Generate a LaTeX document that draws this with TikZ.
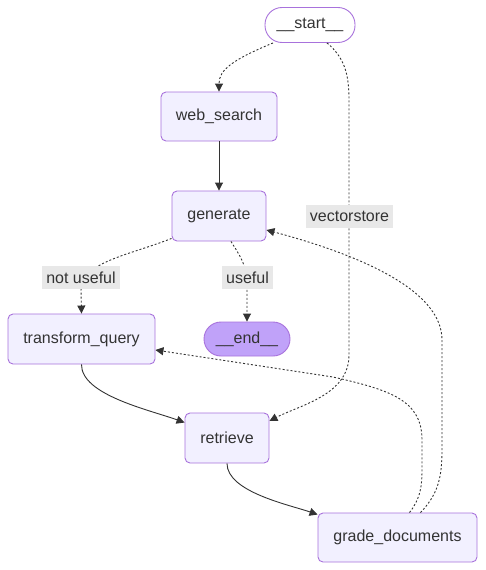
\documentclass[tikz,border=0pt]{standalone}
\usepackage{fontspec}
\setmainfont{Liberation Sans}
\usetikzlibrary{arrows.meta,calc}
\definecolor{nodefill}{HTML}{F2F0FF}
\definecolor{nodeline}{HTML}{A872DC}
\definecolor{endfill}{HTML}{C0A2F9}
\definecolor{txt}{HTML}{333333}
\definecolor{lblfill}{HTML}{E8E8E8}
\tikzset{
  box/.style={draw=nodeline, line width=0.9pt, fill=nodefill, rounded corners=5pt, inner sep=0pt, text=txt, font=\fontsize{16}{19}\selectfont},
  pill/.style={draw=nodeline, line width=0.9pt, rounded corners=17pt, inner sep=0pt, text=txt, font=\fontsize{16}{19}\selectfont},
  lbl/.style={fill=lblfill, inner xsep=4pt, inner ysep=0pt, minimum height=23pt, text=txt, font=\fontsize{16}{19}\selectfont},
  solidedge/.style={draw=txt, line width=0.9pt, -{Triangle[length=8pt,width=8pt]}},
  dotedge/.style={draw=txt, line width=0.9pt, dash pattern=on 2pt off 2pt, -{Triangle[length=8pt,width=8pt]}},
}
\begin{document}
\begin{tikzpicture}[x=1pt,y=-1pt]
\useasboundingbox (0,0) rectangle (485,570);
% nodes
\node[pill, fill=white, minimum width=90pt, minimum height=35pt] (start) at (310,25) {\_\_start\_\_};
\node[box, minimum width=116pt, minimum height=49pt] (ws) at (219,116.5) {web\_search};
\node[box, minimum width=94pt, minimum height=50pt] (gen) at (219,216) {generate};
\node[box, minimum width=147pt, minimum height=50pt] (tq) at (81.5,339) {transform\_query};
\node[pill, fill=endfill, minimum width=86pt, minimum height=34pt] (end) at (247,339) {\_\_end\_\_};
\node[box, minimum width=84pt, minimum height=50pt] (ret) at (227,438) {retrieve};
\node[box, minimum width=159pt, minimum height=49pt] (gd) at (397.5,537.5) {grade\_documents};
% edges (behind labels); note: yshift is in canvas units (positive = up)
\draw[dotedge] ([xshift=-37pt]start.south) .. controls (232,60) and (219,70) .. (ws.north);
\draw[dotedge] ([xshift=17pt]start.south) .. controls (345,58) and (349,75) .. (349,100) -- (349,355) .. controls (349,395) and (300,405) .. ([yshift=17pt]ret.east);
\draw[solidedge] (ws.south) -- (gen.north);
\draw[dotedge] ([yshift=3pt]gen.south west) .. controls (130,255) and (81,262) .. (81,290) -- (tq.north);
\draw[dotedge] ([xshift=12pt]gen.south) .. controls (240,256) and (247,265) .. (247,285) -- (end.north);
\draw[solidedge] (tq.south) .. controls (81,395) and (150,410) .. ([yshift=-10pt]ret.north west);
\draw[solidedge] (ret.south) .. controls (227,492) and (290,505) .. ([yshift=-2pt]gd.north west);
\draw[dotedge] ([xshift=23pt]gd.north) .. controls (437,495) and (442,480) .. (442,450) -- (442,340) .. controls (442,290) and (360,255) .. ([yshift=-14pt]gen.east);
\draw[dotedge] ([xshift=12pt]gd.north) .. controls (419,500) and (422,490) .. (422,470) -- (422,440) .. controls (422,400) and (390,390) .. (333,377) -- ([yshift=-11pt]tq.east);
% labels
\node[lbl] (lvs) at (349.5,216) {vectorstore};
\node[lbl] (lnu) at (81,277.5) {not useful};
\node[lbl] (lu) at (247.5,277.5) {useful};
\end{tikzpicture}
\end{document}
